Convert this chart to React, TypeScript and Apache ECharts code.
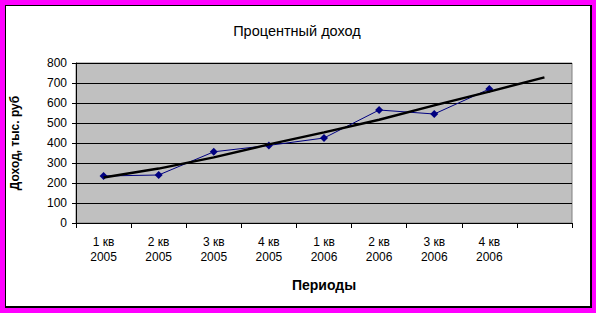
import React, { useEffect, useRef } from "react";
import * as echarts from "echarts";

const categories = [
  "1 кв\n2005", "2 кв\n2005", "3 кв\n2005", "4 кв\n2005",
  "1 кв\n2006", "2 кв\n2006", "3 кв\n2006", "4 кв\n2006", "",
];
const incomeValues = [235, 240, 356, 388, 425, 565, 545, 670];
const trendValues = [228, 272, 328, 393, 453, 516, 588, 657, 728];
const yTicks = { min: 0, max: 800, interval: 100 };
const titleText = "Процентный доход";
const xAxisTitle = "Периоды";
const yAxisTitle = "Доход, тыс. руб";

const FONT = "'Liberation Sans', Arial, sans-serif";

export default function App() {
  const ref = useRef<HTMLDivElement>(null);
  useEffect(() => {
    if (!ref.current) return;
    const chart = echarts.init(ref.current, null, { renderer: "svg" });
    chart.setOption({
      animation: false,
      title: {
        text: titleText,
        left: 286,
        top: 12,
        textAlign: "center",
        textStyle: { fontFamily: FONT, fontSize: 14.5, fontWeight: "normal", color: "#000" },
      },
      grid: {
        left: 70,
        right: 18,
        top: 57,
        bottom: 83,
        outerBoundsMode: "none",
        containLabel: false,
        show: true,
        backgroundColor: "#C0C0C0",
        borderColor: "#808080",
        borderWidth: 1,
      },
      xAxis: {
        type: "category",
        data: categories,
        boundaryGap: true,
        name: xAxisTitle,
        nameLocation: "middle",
        nameGap: 55,
        nameTextStyle: { fontFamily: FONT, fontSize: 14, fontWeight: "bold", color: "#000" },
        axisLine: { lineStyle: { color: "#000", width: 1 } },
        axisTick: { show: true, length: 5, interval: 0, lineStyle: { color: "#000" } },
        axisLabel: {
          interval: 0,
          margin: 11,
          fontFamily: FONT,
          fontSize: 12,
          lineHeight: 15,
          color: "#000",
        },
        splitLine: { show: false },
      },
      yAxis: {
        type: "value",
        min: yTicks.min,
        max: yTicks.max,
        interval: yTicks.interval,
        name: yAxisTitle,
        nameLocation: "middle",
        nameRotate: 90,
        nameGap: 55,
        nameTextStyle: { fontFamily: FONT, fontSize: 12, fontWeight: "bold", color: "#000" },
        axisLine: { show: true, lineStyle: { color: "#000", width: 1 } },
        axisTick: { show: true, length: 4, lineStyle: { color: "#000" } },
        axisLabel: { margin: 9, fontFamily: FONT, fontSize: 12, color: "#000" },
        splitLine: { show: true, lineStyle: { color: "#000", width: 1 } },
      },
      series: [
        {
          name: "Доход",
          type: "line",
          data: incomeValues,
          symbol: "diamond",
          symbolSize: 8,
          itemStyle: { color: "#000080" },
          lineStyle: { color: "#000080", width: 1 },
          z: 2,
        },
        {
          name: "Тренд",
          type: "line",
          data: trendValues,
          symbol: "none",
          lineStyle: { color: "#000", width: 2.5 },
          z: 3,
        },
      ],
    });
    return () => chart.dispose();
  }, []);

  return (
    <div
      style={{
        position: "absolute",
        left: 0,
        top: 0,
        width: 596,
        height: 313,
        background: "#FF00FF",
        overflow: "hidden",
      }}
    >
      <div
        style={{
          position: "absolute",
          left: 5,
          top: 5,
          width: 587,
          height: 303,
          boxSizing: "border-box",
          background: "#fff",
          borderLeft: "1px solid #000",
          borderTop: "1px solid #000",
          borderRight: "2px solid #000",
          borderBottom: "2px solid #000",
        }}
      />
      <div
        ref={ref}
        style={{ position: "absolute", left: 6, top: 6, width: 584, height: 300 }}
      />
    </div>
  );
}
